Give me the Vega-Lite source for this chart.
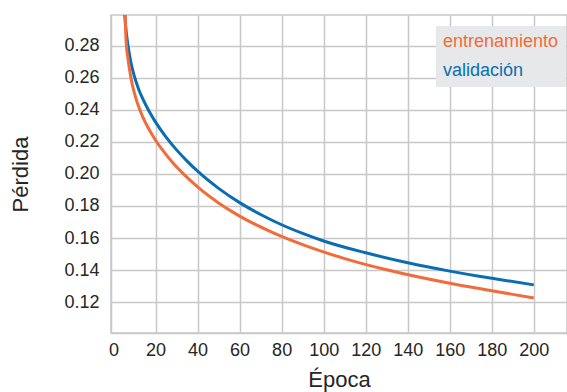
{
  "$schema": "https://vega.github.io/schema/vega-lite/v6.json",
  "width": 456,
  "height": 318,
  "autosize": {"type": "none"},
  "padding": {"left": 111, "top": 15, "right": 0, "bottom": 59},
  "background": "#ffffff",
  "config": {
    "font": "Liberation Sans",
    "view": {"stroke": "#c8c8c8", "strokeWidth": 1.5},
    "axis": {
      "gridColor": "#c8c8c8",
      "gridWidth": 1.5,
      "domainColor": "#c8c8c8",
      "domainWidth": 1.5,
      "ticks": false,
      "labelFont": "Liberation Sans",
      "labelFontSize": 18,
      "labelColor": "#262626",
      "titleFont": "Liberation Sans",
      "titleFontSize": 22,
      "titleFontWeight": "normal",
      "titleColor": "#262626"
    }
  },
  "data": {
    "values": [
      {"epoca": 4, "perdida": 0.34, "serie": "validación"},
      {"epoca": 5, "perdida": 0.306, "serie": "validación"},
      {"epoca": 6, "perdida": 0.2892, "serie": "validación"},
      {"epoca": 7, "perdida": 0.2791, "serie": "validación"},
      {"epoca": 8, "perdida": 0.2714, "serie": "validación"},
      {"epoca": 9, "perdida": 0.2654, "serie": "validación"},
      {"epoca": 10, "perdida": 0.2605, "serie": "validación"},
      {"epoca": 12, "perdida": 0.2527, "serie": "validación"},
      {"epoca": 14, "perdida": 0.2466, "serie": "validación"},
      {"epoca": 17, "perdida": 0.2389, "serie": "validación"},
      {"epoca": 20, "perdida": 0.2323, "serie": "validación"},
      {"epoca": 25, "perdida": 0.223, "serie": "validación"},
      {"epoca": 30, "perdida": 0.215, "serie": "validación"},
      {"epoca": 35, "perdida": 0.208, "serie": "validación"},
      {"epoca": 40, "perdida": 0.2017, "serie": "validación"},
      {"epoca": 50, "perdida": 0.191, "serie": "validación"},
      {"epoca": 60, "perdida": 0.1821, "serie": "validación"},
      {"epoca": 70, "perdida": 0.1747, "serie": "validación"},
      {"epoca": 80, "perdida": 0.1683, "serie": "validación"},
      {"epoca": 90, "perdida": 0.1629, "serie": "validación"},
      {"epoca": 100, "perdida": 0.1582, "serie": "validación"},
      {"epoca": 120, "perdida": 0.1508, "serie": "validación"},
      {"epoca": 140, "perdida": 0.1446, "serie": "validación"},
      {"epoca": 160, "perdida": 0.1394, "serie": "validación"},
      {"epoca": 180, "perdida": 0.1349, "serie": "validación"},
      {"epoca": 200, "perdida": 0.1308, "serie": "validación"},
      {"epoca": 4, "perdida": 0.45, "serie": "entrenamiento"},
      {"epoca": 5, "perdida": 0.338, "serie": "entrenamiento"},
      {"epoca": 6, "perdida": 0.2827, "serie": "entrenamiento"},
      {"epoca": 7, "perdida": 0.2707, "serie": "entrenamiento"},
      {"epoca": 8, "perdida": 0.262, "serie": "entrenamiento"},
      {"epoca": 9, "perdida": 0.2553, "serie": "entrenamiento"},
      {"epoca": 10, "perdida": 0.25, "serie": "entrenamiento"},
      {"epoca": 12, "perdida": 0.2417, "serie": "entrenamiento"},
      {"epoca": 14, "perdida": 0.2353, "serie": "entrenamiento"},
      {"epoca": 17, "perdida": 0.2275, "serie": "entrenamiento"},
      {"epoca": 20, "perdida": 0.221, "serie": "entrenamiento"},
      {"epoca": 24, "perdida": 0.2137, "serie": "entrenamiento"},
      {"epoca": 28, "perdida": 0.2073, "serie": "entrenamiento"},
      {"epoca": 34, "perdida": 0.1991, "serie": "entrenamiento"},
      {"epoca": 40, "perdida": 0.1919, "serie": "entrenamiento"},
      {"epoca": 50, "perdida": 0.1819, "serie": "entrenamiento"},
      {"epoca": 60, "perdida": 0.1737, "serie": "entrenamiento"},
      {"epoca": 75, "perdida": 0.1639, "serie": "entrenamiento"},
      {"epoca": 90, "perdida": 0.1559, "serie": "entrenamiento"},
      {"epoca": 110, "perdida": 0.1472, "serie": "entrenamiento"},
      {"epoca": 130, "perdida": 0.1402, "serie": "entrenamiento"},
      {"epoca": 160, "perdida": 0.1318, "serie": "entrenamiento"},
      {"epoca": 180, "perdida": 0.1272, "serie": "entrenamiento"},
      {"epoca": 200, "perdida": 0.1226, "serie": "entrenamiento"}
    ]
  },
  "mark": {"type": "line", "strokeWidth": 3, "clip": true, "interpolate": "monotone"},
  "encoding": {
    "x": {
      "field": "epoca",
      "type": "quantitative",
      "scale": {"domain": [-1.2, 215.8], "nice": false, "zero": false},
      "axis": {
        "title": "Época",
        "values": [0, 20, 40, 60, 80, 100, 120, 140, 160, 180, 200],
        "gridOpacity": {"condition": {"test": "datum.value === 0", "value": 0}, "value": 1},
        "labelPadding": 8,
        "titlePadding": 10
      }
    },
    "y": {
      "field": "perdida",
      "type": "quantitative",
      "scale": {"domain": [0.1008, 0.2991], "nice": false, "zero": false},
      "axis": {
        "title": "Pérdida",
        "values": [0.12, 0.14, 0.16, 0.18, 0.2, 0.22, 0.24, 0.26, 0.28],
        "format": ".2f",
        "labelPadding": 12,
        "titlePadding": 31
      }
    },
    "color": {
      "field": "serie",
      "type": "nominal",
      "sort": ["entrenamiento", "validación"],
      "scale": {"domain": ["entrenamiento", "validación"], "range": ["#f26b3a", "#0a6db4"]},
      "legend": {
        "title": null,
        "orient": "none",
        "legendX": 325,
        "legendY": 11,
        "fillColor": "#e6e8ea",
        "padding": 7,
        "symbolSize": 0,
        "symbolStrokeWidth": 0,
        "symbolOpacity": 0,
        "labelOffset": -18,
        "labelFontSize": 18,
        "labelLimit": 300,
        "labelFont": "Liberation Sans",
        "rowPadding": 11,
        "encode": {
          "labels": {"update": {"fill": {"scale": "color", "field": "value"}}}
        }
      }
    }
  }
}
